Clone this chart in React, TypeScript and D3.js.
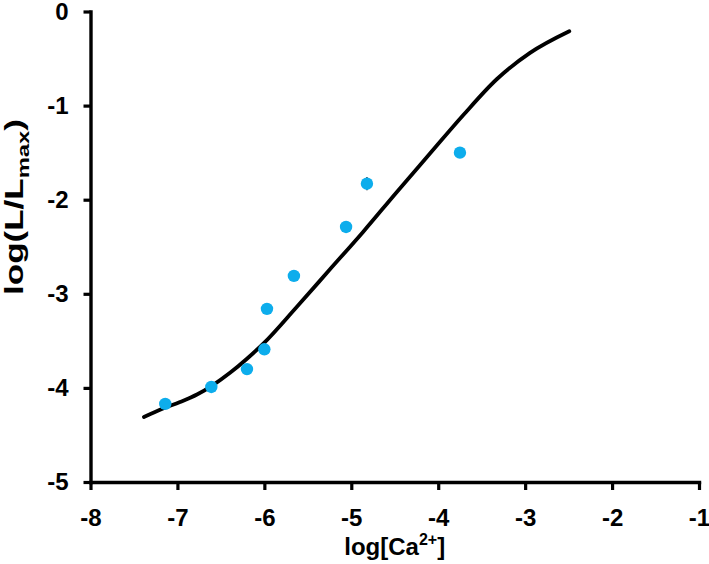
import React, { useEffect, useRef } from "react";
import * as d3 from "d3";

const xTicks = [-8, -7, -6, -5, -4, -3, -2, -1];
const yTicks = [-5, -4, -3, -2, -1, 0];

const pointX = [-7.14, -6.61, -6.2, -6.0, -5.97, -5.66, -5.06, -4.82, -3.75];
const pointY = [-4.17, -3.99, -3.8, -3.59, -3.16, -2.81, -2.29, -1.83, -1.5];
const pointErr = [0, 0, 0, 0, 0, 0, 0, 0.07, 0];

const curveX = [-7.385, -7.166, -6.97, -6.775, -6.591, -6.395, -6.2, -6.012, -5.628, -5.245, -4.862, -4.478, -4.095, -3.711, -3.327, -2.944, -2.492];
const curveY = [-4.31, -4.22, -4.15, -4.07, -3.97, -3.84, -3.69, -3.53, -3.14, -2.74, -2.34, -1.92, -1.51, -1.1, -0.72, -0.44, -0.21];

const W = 709;
const H = 564;
const FONT = "'Liberation Sans', Arial, Helvetica, sans-serif";

export default function App() {
  const ref = useRef<SVGSVGElement>(null);
  const x = d3.scaleLinear().domain([-8, -1]).range([90.5, 699]);
  const y = d3.scaleLinear().domain([-5, 0]).range([482, 11.5]);

  useEffect(() => {
    const svg = d3.select(ref.current);
    svg.selectAll(".axis").remove();
    const gx = svg.append("g").attr("class", "axis").attr("transform", `translate(0,${y(-5)})`)
      .call(d3.axisBottom(x).tickValues(xTicks).tickSize(8).tickSizeOuter(0).tickPadding(19).tickFormat(d3.format("d")));
    const gy = svg.append("g").attr("class", "axis").attr("transform", `translate(${x(-8)},0)`)
      .call(d3.axisLeft(y).tickValues(yTicks).tickSize(7).tickSizeOuter(0).tickPadding(15).tickFormat(d3.format("d")));
    [gx, gy].forEach((g) => {
      g.select(".domain").style("stroke", "#000").style("stroke-width", "3.4px").style("stroke-linecap", "square");
      g.selectAll(".tick line").style("stroke", "#000").style("stroke-width", "3.2px");
      g.selectAll(".tick text")
        .style("fill", "#000")
        .style("font-family", FONT)
        .style("font-weight", "bold")
        .style("font-size", "24px");
    });
    svg.selectAll(".tick text").text((d: any) => String(d).replace("−", "-"));
  }, []);

  const line = d3.line<number>()
    .x((_, i) => x(curveX[i]))
    .y((d) => y(d))
    .curve(d3.curveMonotoneX);

  return (
    <svg ref={ref} width={W} height={H} style={{ position: "absolute", left: 0, top: 0, background: "#fff" }}>
      <path d={line(curveY) || ""} fill="none" stroke="#000" strokeWidth={3.8} strokeLinecap="round" />
      {pointX.map((px, i) =>
        pointErr[i] > 0 ? (
          <line key={"e" + i} x1={x(px)} x2={x(px)} y1={y(pointY[i] - pointErr[i])} y2={y(pointY[i] + pointErr[i])} stroke="#333" strokeWidth={1.5} />
        ) : null
      )}
      {pointX.map((px, i) => (
        <circle key={i} cx={x(px)} cy={y(pointY[i])} r={6.2} fill="#0dadec" />
      ))}
      <text x={(x(-8) + x(-1)) / 2} y={555} textAnchor="middle" fontFamily={FONT} fontWeight="bold" fontSize={24}>
        log[Ca<tspan fontSize={16} dy={-10}>2+</tspan><tspan dy={10}>]</tspan>
      </text>
      <text transform={`translate(23,207) rotate(-90) scale(1.4,1)`} textAnchor="middle" fontFamily={FONT} fontWeight="bold" fontSize={25}>
        log(L/L<tspan fontSize={17} dy={6}>max</tspan><tspan dy={-6}>)</tspan>
      </text>
    </svg>
  );
}
